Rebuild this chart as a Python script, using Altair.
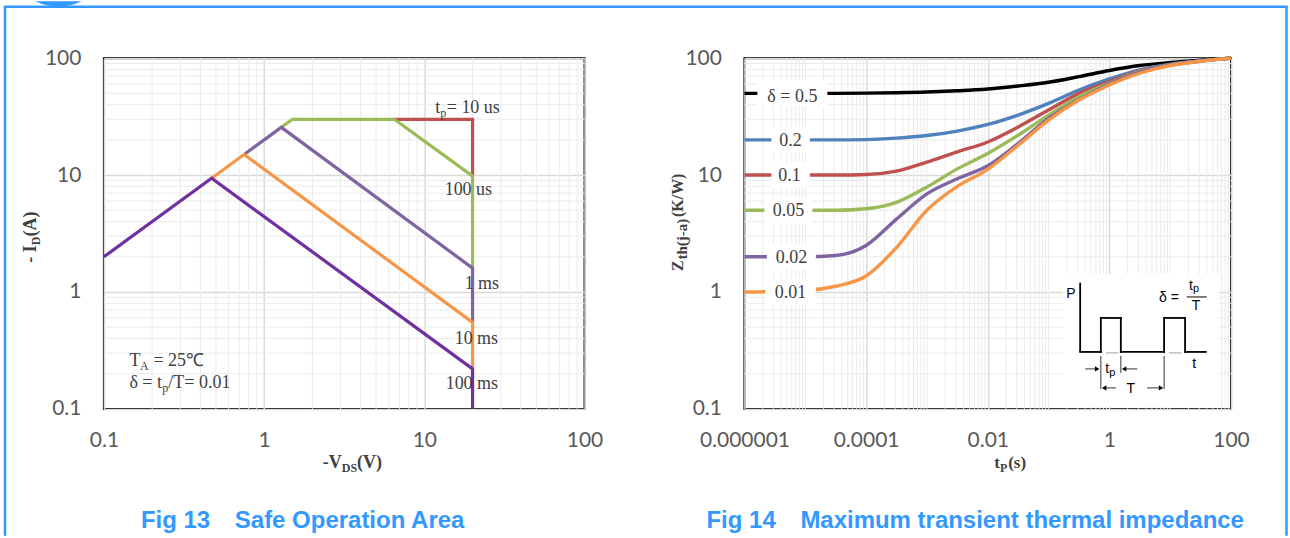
import altair as alt
import pandas as pd

# ---------------- Fig 13 : safe operating area (VDS in V, ID in A) ----------------
SOA_SERIES = ["10 us", "100 us", "1 ms", "10 ms", "100 ms"]
SOA_COLORS = ["#C0504D", "#9BBB59", "#8064A2", "#F79646", "#7030A0"]
VDS_10US = [6.5, 20, 20]
ID_10US = [30, 30, 9.8]
VDS_100US = [1.28, 1.5, 6.5, 20, 20]
ID_100US = [25.6, 30, 30, 9.8, 1.6]
VDS_1MS = [0.75, 1.28, 20, 20]
ID_1MS = [15, 25.6, 1.6, 0.55]
VDS_10MS = [0.47, 0.75, 20, 20]
ID_10MS = [9.4, 15, 0.55, 0.22]
VDS_100MS = [0.1, 0.47, 20, 20]
ID_100MS = [2.0, 9.4, 0.22, 0.1]
SOA_X_TICKS = [0.1, 1, 10, 100]
SOA_Y_TICKS = [0.1, 1, 10, 100]

# ---------------- Fig 14 : transient thermal impedance ----------------
TP = [1e-6, 1e-5, 3.16e-5, 1e-4, 3.16e-4, 1e-3, 3.16e-3, 1e-2, 3.16e-2,
      1e-1, 3.16e-1, 1, 3.16, 10, 31.6, 100]
DELTAS = ["0.5", "0.2", "0.1", "0.05", "0.02", "0.01"]
DELTA_LABELS = ["δ = 0.5", "0.2", "0.1", "0.05", "0.02", "0.01"]
ZTH_COLORS = ["#000000", "#4F81BD", "#C0504D", "#9BBB59", "#8064A2", "#F79646"]
ZTH_05 = [50, 50, 50, 50.2, 50.6, 51.3, 52.6, 54.5, 57.8, 62.2, 69.5, 78.4, 86.5, 91.8, 96, 100]
ZTH_02 = [20, 20, 20, 20.1, 20.7, 21.8, 23.8, 27.1, 32.6, 41, 53.4, 66.4, 79.4, 88.8, 95, 100]
ZTH_01 = [10, 10, 10, 10.1, 10.8, 12.9, 15.8, 19.2, 25.8, 36, 50, 63, 77.8, 87.6, 94.5, 100]
ZTH_005 = [5, 5, 5, 5.15, 5.85, 7.9, 11.3, 15.3, 21.9, 32.6, 46.8, 61, 76.8, 87.6, 94.5, 100]
ZTH_002 = [2, 2, 2.05, 2.5, 4.2, 6.9, 9.3, 12, 18.6, 30.5, 44.4, 60, 75.8, 87.6, 94.5, 100]
ZTH_001 = [1, 1.03, 1.12, 1.37, 2.4, 5.0, 8.0, 11.2, 18, 29.5, 43.8, 59, 74.3, 86.5, 94, 100]
ZTH_X_TICKS = [1e-6, 1e-4, 1e-2, 1, 100]
ZTH_Y_TICKS = [0.1, 1, 10, 100]

# ---------------- styling ----------------
BLUE = "#3399FF"
SERIF = "Liberation Serif"
SANS = "Liberation Sans"
TICKFONT = "Lato"
TXT = "#404040"
LBL = "#595959"
MAJOR = "#D9D9D9"
MINOR = "#EBEBEB"
W1, W2, H = 481, 487, 351
ONE = pd.DataFrame({"k": [0]})
LABEL_EXPR = "datum.value >= 1 ? format(datum.value, 'd') : format(datum.value, '.6~f')"


def axis(vals, pad):
    return alt.Axis(values=vals, labelExpr=LABEL_EXPR, title=None, grid=True,
                    gridColor=MAJOR, gridWidth=1.5, domain=False, ticks=False,
                    tickSize=0, labelPadding=pad, labelFont=TICKFONT,
                    labelFontSize=21, labelColor=LBL, labelOverlap=False,
                    labelFlush=False)


def T(x, y, s, size=18, font=SERIF, weight="normal", color=TXT, align="left",
      baseline="alphabetic", angle=0, dx=0, dy=0):
    mk = dict(text=s, font=font, fontSize=size, fontWeight=weight, color=color,
              align=align, baseline=baseline, dx=dx, dy=dy)
    if angle:
        mk["angle"] = angle
    return alt.Chart(ONE).mark_text(**mk).encode(x=alt.value(x), y=alt.value(y))


def R(x1, y1, x2, y2, color="black", width=1.0, cap="butt"):
    return alt.Chart(ONE).mark_rule(color=color, strokeWidth=width, strokeCap=cap).encode(
        x=alt.value(x1), y=alt.value(y1), x2=alt.value(x2), y2=alt.value(y2))


def arrow(x, y, direction):
    return alt.Chart(ONE).mark_point(shape="triangle-" + direction, filled=True, size=26,
                                     color="black", opacity=1, strokeWidth=0).encode(
        x=alt.value(x), y=alt.value(y))


# ======================= left chart =======================
soa_rows = []
for name, vs, cs in zip(SOA_SERIES,
                        [VDS_10US, VDS_100US, VDS_1MS, VDS_10MS, VDS_100MS],
                        [ID_10US, ID_100US, ID_1MS, ID_10MS, ID_100MS]):
    for k, (v, c) in enumerate(zip(vs, cs)):
        soa_rows.append({"s": name, "v": v, "i": c, "k": k})
soa_df = pd.DataFrame(soa_rows)

xs1 = alt.Scale(type="log", domain=[0.1, 100], nice=False)
ys = alt.Scale(type="log", domain=[0.1, 100], nice=False)
XA1 = axis(SOA_X_TICKS, 21)
YA = axis(SOA_Y_TICKS, 23)

minor_dec = pd.DataFrame({"g": [m * 10.0 ** e for e in range(-1, 2) for m in range(2, 10)]})

left_layers = [
    alt.Chart(minor_dec).mark_rule(color=MINOR, strokeWidth=1).encode(
        x=alt.X("g:Q", scale=xs1, axis=XA1)),
    alt.Chart(minor_dec).mark_rule(color=MINOR, strokeWidth=1).encode(
        y=alt.Y("g:Q", scale=ys, axis=YA)),
    alt.Chart(soa_df).mark_line(strokeWidth=3.2).encode(
        x=alt.X("v:Q", scale=xs1, axis=XA1),
        y=alt.Y("i:Q", scale=ys, axis=YA),
        color=alt.Color("s:N", scale=alt.Scale(domain=SOA_SERIES, range=SOA_COLORS), legend=None),
        order=alt.Order("k:Q")),
    # curve annotations
    T(331.6, 55, "t"), T(331.6, 55, "p", size=12, dx=5, dy=4), T(331.6, 55, "= 10 us", dx=11.5),
    T(341, 136.6, "100 us"),
    T(361, 231, "1 ms"),
    T(351, 285.6, "10 ms"),
    T(342, 331, "100 ms"),
    T(25.5, 308.4, "T"), T(25.5, 308.4, "A", size=12, dx=10.5, dy=4), T(25.5, 308.4, "= 25℃", dx=24),
    T(25.5, 330, "δ = t"), T(25.5, 330, "p", size=12, dx=33, dy=4), T(25.5, 330, "/T= 0.01", dx=39),
    # axis titles
    T(219, 410, "-V", weight="bold"), T(219, 410, "DS", size=12, weight="bold", dx=19, dy=4),
    T(219, 410, "(V)", weight="bold", dx=34.3),
    T(-67.5, 204.7, "- I", weight="bold", angle=270),
    T(-67.5, 204.7, "D", size=12, weight="bold", angle=270, dx=17.5, dy=4),
    T(-67.5, 204.7, "(A)", weight="bold", angle=270, dx=26.2),
    # caption
    T(37, 469.7, "Fig 13", size=24, font=SANS, weight="bold", color=BLUE),
    T(131, 469.7, "Safe Operation Area", size=24, font=SANS, weight="bold", color=BLUE),
    # blue page frame
    R(-99, -51.5, 1183.5, -51.5, color=BLUE, width=2.5, cap="square"),
    R(-99, -51.5, -99, 478, color=BLUE, width=2.5),
    R(1183.5, -51.5, 1183.5, 478, color=BLUE, width=2.5),
    alt.Chart(ONE).mark_point(shape="M -1 0 Q 0 0.45 1 0 Z", filled=True, size=2200,
                              color=BLUE, opacity=1, strokeWidth=0).encode(
        x=alt.value(-45.5), y=alt.value(-57)),
]
left = alt.layer(*left_layers).properties(width=W1, height=H)

# ======================= right chart =======================
zth_rows = []
for d, arr in zip(DELTAS, [ZTH_05, ZTH_02, ZTH_01, ZTH_005, ZTH_002, ZTH_001]):
    for k, (t, z) in enumerate(zip(TP, arr)):
        zth_rows.append({"d": d, "t": t, "z": z, "k": k})
zth_df = pd.DataFrame(zth_rows)

xs2 = alt.Scale(type="log", domain=[1e-6, 100], nice=False)
XA2 = axis(ZTH_X_TICKS, 21)
minor_x2 = pd.DataFrame({"g": [m * 10.0 ** e for e in range(-6, 2) for m in range(1, 10)
                               if not (m == 1 and e % 2 == 0)]})

right_layers = [
    alt.Chart(minor_x2).mark_rule(color=MINOR, strokeWidth=1).encode(
        x=alt.X("g:Q", scale=xs2, axis=XA2)),
    alt.Chart(minor_dec).mark_rule(color=MINOR, strokeWidth=1).encode(
        y=alt.Y("g:Q", scale=ys, axis=YA)),
    alt.Chart(zth_df).mark_line(strokeWidth=3.4, interpolate="monotone").encode(
        x=alt.X("t:Q", scale=xs2, axis=XA2),
        y=alt.Y("z:Q", scale=ys, axis=YA),
        color=alt.Color("d:N", scale=alt.Scale(domain=DELTAS, range=ZTH_COLORS), legend=None),
        order=alt.Order("k:Q")),
]

# curve labels on white boxes (levels = flat part of each curve)
LAB_BOX_L = [13, 27, 27, 20, 22.5, 21]
LAB_BOX_R = [83, 65.5, 65.5, 68, 71.5, 71.5]
LAB_CX = [48, 46, 45, 44, 47, 46]
LAB_DY = [4, 1, 1, 1, 1, 1]
for lab, arr, xl, xr, xc, ddy in zip(DELTA_LABELS, [ZTH_05, ZTH_02, ZTH_01, ZTH_005, ZTH_002, ZTH_001],
                                     LAB_BOX_L, LAB_BOX_R, LAB_CX, LAB_DY):
    lv = pd.DataFrame({"lv": [arr[0]]})
    right_layers.append(
        alt.Chart(lv).mark_rect(color="white", yOffset=-13, y2Offset=13).encode(
            x=alt.value(xl), x2=alt.value(xr),
            y=alt.Y("lv:Q", scale=ys, axis=YA), y2=alt.Y2("lv:Q")))
    right_layers.append(
        alt.Chart(lv).mark_text(text=lab, font=SERIF, fontSize=18, color=TXT, align="center",
                                baseline="middle", dy=ddy).encode(
            x=alt.value(xc), y=alt.Y("lv:Q", scale=ys, axis=YA)))

# inset: duty-cycle definition
right_layers += [
    alt.Chart(ONE).mark_rect(color="white").encode(
        x=alt.value(319), x2=alt.value(475), y=alt.value(216), y2=alt.value(348.7)),
    R(336, 224.7, 336, 294, width=1.8),
    R(336, 294, 356.7, 294, width=1.8, cap="square"),
    R(356.7, 294, 356.7, 260, width=1.8, cap="square"),
    R(356.7, 260, 376.7, 260, width=1.8, cap="square"),
    R(376.7, 260, 376.7, 294, width=1.8, cap="square"),
    R(376.7, 294, 420, 294, width=1.8, cap="square"),
    R(420, 294, 420, 260, width=1.8, cap="square"),
    R(420, 260, 441, 260, width=1.8, cap="square"),
    R(441, 260, 441, 294, width=1.8, cap="square"),
    R(441, 294, 461.7, 294, width=1.8, cap="square"),
    R(361.7, 295, 374.3, 295, color="#888888", width=0.8),
    R(425, 295, 437.7, 295, color="#888888", width=0.8),
    R(356.7, 298, 356.7, 331, width=0.8),
    R(376.7, 298, 376.7, 315, width=0.8),
    R(420, 298, 420, 331, width=0.8),
    R(341, 311, 352, 311, width=0.8), arrow(353, 311, "right"),
    R(393, 311, 381, 311, width=0.8), arrow(380, 311, "left"),
    R(372, 330, 361, 330, width=0.8), arrow(360, 330, "left"),
    R(403, 330, 416, 330, width=0.8), arrow(417, 330, "right"),
    R(442.7, 239, 462.7, 239, width=1.0),
    T(322, 239.7, "P", size=14, font=SANS, color="black"),
    T(415, 243.7, "δ =", size=14, font=SANS, color="black"),
    T(445, 232, "t", size=14, font=SANS, color="black"),
    T(449, 234, "p", size=11, font=SANS, color="black"),
    T(452, 252, "T", size=14, font=SANS, color="black", align="center"),
    T(450, 309.7, "t", size=14, font=SANS, color="black", align="center"),
    T(361, 315, "t", size=14, font=SANS, color="black"),
    T(365, 318, "p", size=11, font=SANS, color="black"),
    T(386.7, 334.7, "T", size=14, font=SANS, color="black", align="center"),
    # axis titles
    T(250, 410, "t", size=17, weight="bold"), T(250, 410, "P", size=12, weight="bold", dx=5.7, dy=4),
    T(250, 410, "(s)", size=17, weight="bold", dx=14),
    T(-61.5, 213, "Z", size=16, weight="bold", angle=270),
    T(-61.5, 213, "th(j-a)", size=15, weight="bold", angle=270, dx=11.5, dy=4),
    T(-61.5, 213, "(K/W)", size=16, weight="bold", angle=270, dx=54),
    # caption
    T(-38, 469.7, "Fig 14", size=24, font=SANS, weight="bold", color=BLUE),
    T(56, 469.7, "Maximum transient thermal impedance", size=24, font=SANS, weight="bold", color=BLUE),
]
right = alt.layer(*right_layers).properties(width=W2, height=H)

chart = alt.hconcat(left, right, spacing=160, bounds="flush").resolve_scale(
    color="independent").configure_view(
    stroke="black", strokeWidth=2).properties(
    padding={"left": 2, "top": 0, "right": 0, "bottom": 0})

chart.save("out.html", embed_options={"renderer": "svg", "actions": False})
